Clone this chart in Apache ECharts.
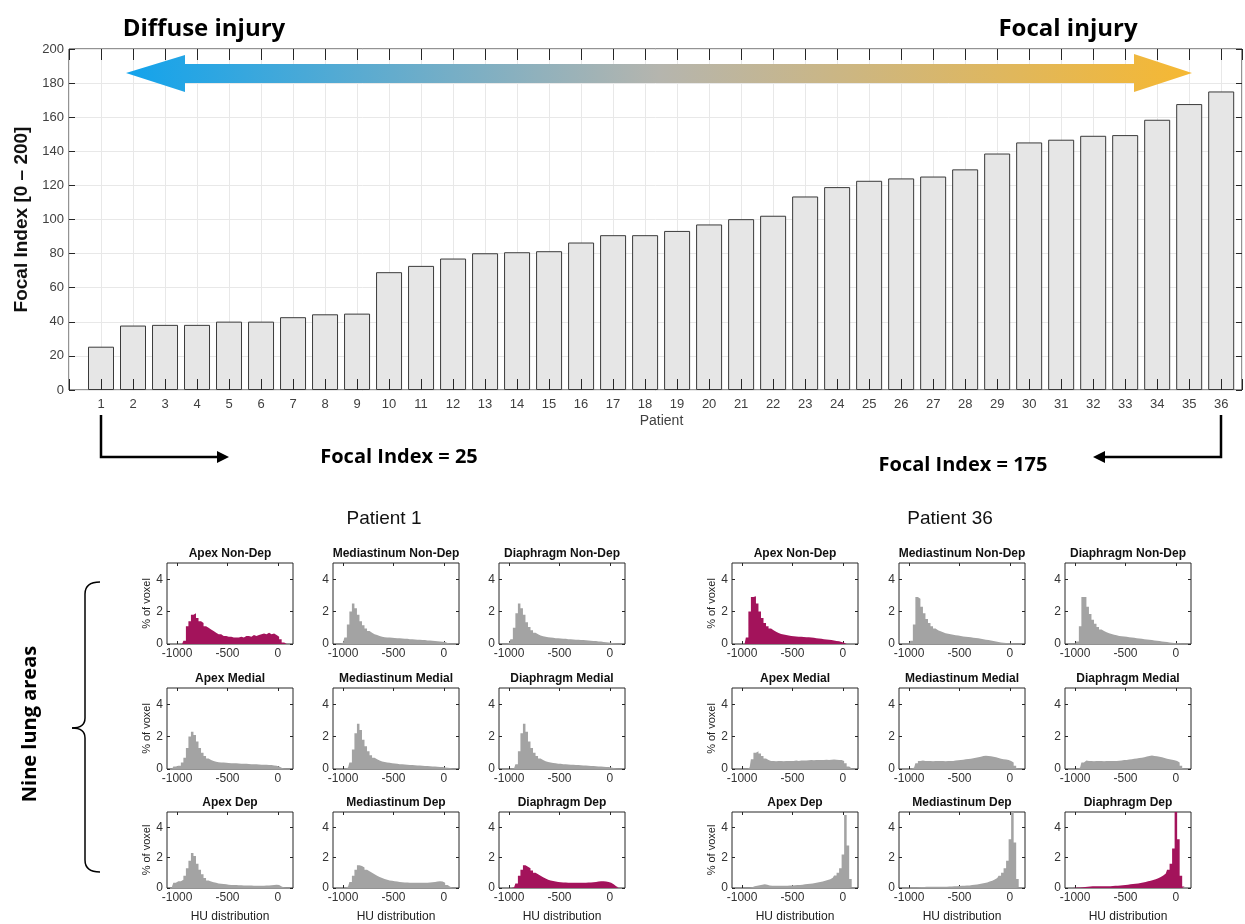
<!DOCTYPE html>
<html>
<head>
<meta charset="utf-8">
<script src="https://cdn.jsdelivr.net/npm/echarts@6.0.0/dist/echarts.min.js"></script>
<style>
html, body { margin: 0; padding: 0; background: #fff; }
#chart { width: 1245px; height: 924px; }
</style>
</head>
<body>
<div id="chart"></div>
<script>
// ---- data ----
var patients = [1, 2, 3, 4, 5, 6, 7, 8, 9, 10, 11, 12, 13, 14, 15, 16, 17, 18,
    19, 20, 21, 22, 23, 24, 25, 26, 27, 28, 29, 30, 31, 32, 33, 34, 35, 36];
var focalIndex = [25.4, 37.8, 38.2, 38.2, 40.1, 40.1, 42.7, 44.4, 44.8, 69.1, 72.8, 77.1,
    80.2, 80.8, 81.4, 86.5, 90.8, 90.8, 93.3, 97.1, 100.2, 102.2, 113.5, 119.0,
    122.7, 124.1, 125.2, 129.4, 138.7, 145.2, 146.8, 149.1, 149.5, 158.5, 167.7, 175.1];

// histogram bin centres (HU)
var huBins = [-1050, -1025, -1000, -975, -950, -925, -900, -875, -850, -825, -800, -775,
    -750, -725, -700, -675, -650, -625, -600, -575, -550, -525, -500, -475, -450, -425,
    -400, -375, -350, -325, -300, -275, -250, -225, -200, -175, -150, -125, -100, -75,
    -50, -25, 0, 25, 50, 75, 100];
var huTicks = [-1000, -500, 0];
var voxelTicks = [0, 2, 4];

var regionNames = ['Apex Non-Dep', 'Mediastinum Non-Dep', 'Diaphragm Non-Dep',
    'Apex Medial', 'Mediastinum Medial', 'Diaphragm Medial',
    'Apex Dep', 'Mediastinum Dep', 'Diaphragm Dep'];

// patient 1, % of voxel per bin
var p1ApexNonDep = [0,0,0,0,0,0.2,1.1,1.4,1.8,1.9, 1.6,1.4,1.3,1.1,1.0,0.9,0.8,0.7,0.6,0.6,
    0.5,0.5,0.45,0.45,0.4,0.4,0.4,0.45,0.4,0.5, 0.5,0.45,0.55,0.5,0.55,0.6,0.65,0.6,0.7,0.6,
    0.65,0.55,0.45,0.3,0.1,0,0];
var p1MediastNonDep = [0,0,0.1,0.4,1.2,2.0,2.5,2.2,1.8,1.4, 1.15,0.95,0.8,0.7,0.6,0.55,0.5,0.45,0.42,0.4,
    0.4,0.38,0.37,0.36,0.35,0.34,0.33,0.32,0.3,0.3, 0.28,0.27,0.26,0.25,0.24,0.22,0.21,0.2,0.19,0.17,
    0.16,0.14,0.12,0.06,0,0,0];
var p1DiaphNonDep = [0,0,0.05,0.3,1.0,1.9,2.5,2.2,1.8,1.35, 1.05,0.85,0.7,0.6,0.52,0.48,0.45,0.42,0.4,0.38,
    0.36,0.35,0.34,0.33,0.32,0.3,0.3,0.28,0.27,0.26, 0.25,0.24,0.23,0.22,0.2,0.19,0.18,0.16,0.15,0.13,
    0.11,0.09,0.08,0.05,0.02,0,0];
var p1ApexMedial = [0,0.15,0.2,0.2,0.4,0.7,1.3,2.0,2.3,2.1, 1.7,1.3,1.0,0.8,0.65,0.55,0.5,0.45,0.42,0.4,
    0.4,0.38,0.37,0.36,0.35,0.35,0.34,0.33,0.33,0.32, 0.31,0.3,0.3,0.29,0.28,0.27,0.26,0.26,0.25,0.24,
    0.22,0.2,0.15,0.08,0.02,0,0];
var p1MediastMedial = [0,0,0,0,0.1,0.4,1.2,2.2,2.8,2.4, 1.8,1.4,1.1,0.85,0.7,0.6,0.52,0.47,0.43,0.4,
    0.38,0.36,0.34,0.32,0.3,0.29,0.28,0.26,0.25,0.24, 0.23,0.22,0.21,0.2,0.19,0.18,0.17,0.16,0.15,0.14,
    0.13,0.12,0.1,0.08,0.06,0.02,0];
var p1DiaphMedial = [0,0,0,0,0.05,0.3,1.1,2.2,2.8,2.3, 1.7,1.3,1.0,0.8,0.65,0.55,0.48,0.43,0.4,0.37,
    0.35,0.33,0.32,0.3,0.29,0.28,0.27,0.26,0.25,0.24, 0.23,0.22,0.21,0.2,0.19,0.18,0.17,0.16,0.15,0.14,
    0.13,0.12,0.1,0.06,0.02,0,0];
var p1ApexDep = [0.1,0.35,0.45,0.45,0.55,0.8,1.3,1.8,2.3,2.1, 1.6,1.2,0.9,0.65,0.5,0.42,0.38,0.34,0.3,0.28,
    0.26,0.24,0.22,0.2,0.2,0.19,0.18,0.18,0.17,0.17, 0.16,0.16,0.15,0.15,0.15,0.15,0.15,0.16,0.17,0.18,
    0.2,0.22,0.2,0.1,0.03,0,0];
var p1MediastDep = [0,0,0,0,0.1,0.4,0.8,1.2,1.5,1.45, 1.35,1.2,1.1,1.0,0.9,0.8,0.72,0.65,0.6,0.55,
    0.5,0.47,0.45,0.42,0.4,0.38,0.37,0.36,0.35,0.35, 0.35,0.34,0.34,0.34,0.35,0.35,0.36,0.38,0.4,0.42,
    0.45,0.42,0.35,0.2,0.08,0.02,0];
var p1DiaphDep = [0,0,0,0,0.05,0.3,0.8,1.2,1.5,1.4, 1.3,1.15,1.0,0.9,0.8,0.7,0.62,0.55,0.5,0.46,
    0.43,0.4,0.38,0.37,0.36,0.35,0.35,0.34,0.34,0.34, 0.34,0.35,0.35,0.36,0.37,0.38,0.4,0.42,0.44,0.45,
    0.43,0.4,0.35,0.25,0.12,0.04,0];

// patient 36, % of voxel per bin
var p36ApexNonDep = [0,0,0,0,0.4,2.0,2.9,2.95,2.5,2.0, 1.6,1.3,1.1,0.95,0.85,0.75,0.68,0.62,0.58,0.55,
    0.52,0.5,0.48,0.46,0.45,0.44,0.43,0.42,0.41,0.4, 0.38,0.36,0.34,0.32,0.3,0.28,0.26,0.24,0.22,0.19,
    0.17,0.13,0.08,0,0,0,0];
var p36MediastNonDep = [0,0,0,0.2,1.2,2.9,2.8,2.3,1.9,1.55, 1.3,1.1,0.95,0.85,0.78,0.72,0.67,0.63,0.6,0.57,
    0.54,0.52,0.5,0.47,0.45,0.43,0.41,0.39,0.37,0.35, 0.33,0.3,0.27,0.24,0.21,0.18,0.15,0.12,0.1,0.08,
    0.06,0.04,0.03,0.01,0,0,0];
var p36DiaphNonDep = [0,0,0,0.15,1.1,2.9,2.9,2.3,1.85,1.5, 1.25,1.05,0.9,0.8,0.72,0.66,0.61,0.57,0.54,0.5,
    0.48,0.46,0.44,0.42,0.4,0.38,0.36,0.34,0.32,0.3, 0.28,0.26,0.24,0.22,0.2,0.18,0.16,0.14,0.12,0.1,
    0.08,0.06,0.04,0.02,0,0,0];
var p36ApexMedial = [0,0,0,0,0,0.1,0.6,1.0,1.1,0.95, 0.8,0.65,0.55,0.5,0.5,0.48,0.5,0.5,0.48,0.5,
    0.5,0.49,0.5,0.52,0.5,0.52,0.53,0.52,0.54,0.55, 0.54,0.55,0.56,0.55,0.56,0.57,0.56,0.57,0.58,0.57,
    0.56,0.55,0.5,0.35,0.15,0.03,0];
var p36MediastMedial = [0,0,0,0,0.1,0.35,0.5,0.52,0.5,0.5, 0.5,0.48,0.5,0.49,0.5,0.5,0.48,0.5,0.5,0.5,
    0.52,0.54,0.55,0.57,0.6,0.62,0.64,0.67,0.7,0.72, 0.76,0.8,0.82,0.8,0.78,0.75,0.72,0.68,0.64,0.6,
    0.58,0.55,0.5,0.4,0.2,0.05,0];
var p36DiaphMedial = [0,0,0,0,0.1,0.4,0.52,0.5,0.5,0.48, 0.5,0.5,0.49,0.48,0.5,0.5,0.5,0.49,0.5,0.51,
    0.53,0.55,0.56,0.58,0.6,0.63,0.65,0.68,0.7,0.73, 0.77,0.8,0.83,0.81,0.78,0.75,0.72,0.68,0.64,0.6,
    0.57,0.54,0.5,0.4,0.2,0.05,0];
var p36ApexDep = [0,0,0,0,0,0,0.05,0.12,0.15,0.18, 0.22,0.25,0.22,0.17,0.15,0.14,0.14,0.14,0.14,0.15,
    0.15,0.16,0.17,0.18,0.19,0.2,0.22,0.24,0.26,0.28, 0.3,0.33,0.36,0.4,0.43,0.47,0.52,0.58,0.68,0.82,
    1.0,1.3,2.2,4.8,2.8,0.6,0.05];
var p36MediastDep = [0,0,0.02,0.03,0.03,0.04,0.05,0.06,0.07,0.08, 0.08,0.08,0.08,0.08,0.08,0.08,0.09,0.09,0.1,0.1,
    0.11,0.12,0.13,0.14,0.15,0.16,0.17,0.19,0.21,0.23, 0.26,0.29,0.33,0.37,0.42,0.48,0.56,0.66,0.8,1.0,
    1.3,1.8,3.2,6.0,3.0,0.6,0.05];
var p36DiaphDep = [0,0,0.02,0.03,0.04,0.05,0.07,0.09,0.1,0.12, 0.12,0.12,0.12,0.11,0.11,0.11,0.12,0.13,0.14,0.15,
    0.16,0.18,0.2,0.22,0.24,0.26,0.28,0.3,0.33,0.36, 0.4,0.44,0.48,0.53,0.58,0.64,0.72,0.82,0.95,1.2,
    1.6,2.6,6.0,3.2,0.8,0.1,0];

var GRAY = '#a3a3a3';
var MAGENTA = '#a3135b';
var panels = [
    { values: p1ApexNonDep, color: MAGENTA }, { values: p1MediastNonDep, color: GRAY }, { values: p1DiaphNonDep, color: GRAY },
    { values: p1ApexMedial, color: GRAY }, { values: p1MediastMedial, color: GRAY }, { values: p1DiaphMedial, color: GRAY },
    { values: p1ApexDep, color: GRAY }, { values: p1MediastDep, color: GRAY }, { values: p1DiaphDep, color: MAGENTA },
    { values: p36ApexNonDep, color: MAGENTA }, { values: p36MediastNonDep, color: GRAY }, { values: p36DiaphNonDep, color: GRAY },
    { values: p36ApexMedial, color: GRAY }, { values: p36MediastMedial, color: GRAY }, { values: p36DiaphMedial, color: GRAY },
    { values: p36ApexDep, color: GRAY }, { values: p36MediastDep, color: GRAY }, { values: p36DiaphDep, color: MAGENTA }
];

// ---- layout ----
var FONT = '"Liberation Sans", Arial, sans-serif';
var HEAD = '"Open Sans", sans-serif';
var panelLefts = [[167, 333, 499], [732, 899, 1065]];
var panelTops = [563, 688, 812];
var panelW = 126, panelH = 81;
var noLine = { show: false, onZero: false };
var plain = function (v) { return String(v); };

var grids = [], xAxes = [], yAxes = [], series = [], graphics = [];

// top bar chart
grids.push({ left: 69, right: 2, top: 49, bottom: 534, show: true,
    borderColor: '#262626', borderWidth: 1, backgroundColor: 'transparent' });
xAxes.push({
    gridIndex: 0, type: 'value', position: 'bottom', min: 0, max: 36.65, interval: 1, z: 5,
    axisLine: noLine,
    axisTick: { inside: true, length: 11, lineStyle: { color: '#262626' } },
    axisLabel: {
        fontSize: 13, color: '#404040', margin: 8, fontFamily: FONT,
        formatter: function (v) { return (v >= 1 && v <= 36 && v % 1 === 0) ? String(v) : ''; }
    },
    splitLine: { show: false },
    name: 'Patient', nameLocation: 'middle', nameGap: 24,
    nameTextStyle: { fontSize: 14, color: '#404040', fontFamily: FONT, padding: [0, 0, 0, 12] }
});
xAxes.push({
    gridIndex: 0, type: 'value', position: 'top', min: 0, max: 36.65, interval: 1,
    axisLine: noLine,
    axisTick: { inside: true, length: 11, lineStyle: { color: '#262626' } },
    axisLabel: { show: false },
    splitLine: { show: true, lineStyle: { color: '#e8e8e8' } }
});
yAxes.push({
    gridIndex: 0, type: 'value', min: 0, max: 200, interval: 20,
    axisLine: noLine,
    axisTick: { inside: true, length: 6, lineStyle: { color: '#262626' } },
    axisLabel: { fontSize: 13, color: '#404040', margin: 5, fontFamily: FONT },
    splitLine: { show: true, lineStyle: { color: '#e8e8e8' } },
    name: 'Focal Index [0 \u2013 200]', nameLocation: 'middle', nameGap: 38,
    nameTextStyle: { fontSize: 19, fontWeight: 'bold', color: '#111', fontFamily: FONT }
});
yAxes.push({
    gridIndex: 0, type: 'value', position: 'right', min: 0, max: 200, interval: 20,
    axisLine: noLine,
    axisTick: { inside: true, length: 6, lineStyle: { color: '#262626' } },
    axisLabel: { show: false }, splitLine: { show: false }
});
series.push({
    type: 'bar', xAxisIndex: 0, yAxisIndex: 0, barWidth: 26,
    data: patients.map(function (p, i) { return [p, focalIndex[i]]; }),
    itemStyle: { color: '#e6e6e6', borderColor: '#3a3a3a', borderWidth: 1 }
});

// histogram panels
panels.forEach(function (p, k) {
    var g = Math.floor(k / 9), idx = k % 9, row = Math.floor(idx / 3), col = idx % 3;
    var left = panelLefts[g][col], top = panelTops[row];
    var gi = grids.length, xi = xAxes.length, yi = yAxes.length;
    grids.push({ left: left, top: top, width: panelW, height: panelH, show: true,
        borderColor: '#262626', borderWidth: 1, backgroundColor: 'transparent' });
    xAxes.push({
        gridIndex: gi, type: 'value', position: 'bottom', min: -1100, max: 150,
        axisLine: noLine,
        axisTick: { inside: true, length: 3, customValues: huTicks, lineStyle: { color: '#262626' } },
        axisLabel: { customValues: huTicks, formatter: plain, fontSize: 12, color: '#333', margin: 4, fontFamily: FONT },
        splitLine: { show: false },
        name: row === 2 ? 'HU distribution' : '', nameLocation: 'middle', nameGap: 23,
        nameTextStyle: { fontSize: 12, color: '#222', fontFamily: FONT }
    });
    xAxes.push({
        gridIndex: gi, type: 'value', position: 'top', min: -1100, max: 150,
        axisLine: noLine,
        axisTick: { inside: true, length: 3, customValues: huTicks, lineStyle: { color: '#262626' } },
        axisLabel: { show: false }, splitLine: { show: false }
    });
    yAxes.push({
        gridIndex: gi, type: 'value', min: 0, max: 5,
        axisLine: noLine,
        axisTick: { inside: true, length: 3, customValues: voxelTicks, lineStyle: { color: '#262626' } },
        axisLabel: { customValues: voxelTicks, formatter: plain, fontSize: 12, color: '#333', margin: 4, fontFamily: FONT },
        splitLine: { show: false },
        name: col === 0 ? '% of voxel' : '', nameLocation: 'middle', nameGap: 15,
        nameTextStyle: { fontSize: 11, color: '#222', fontFamily: FONT }
    });
    yAxes.push({
        gridIndex: gi, type: 'value', position: 'right', min: 0, max: 5,
        axisLine: noLine,
        axisTick: { inside: true, length: 3, customValues: voxelTicks, lineStyle: { color: '#262626' } },
        axisLabel: { show: false }, splitLine: { show: false }
    });
    series.push({
        type: 'line', xAxisIndex: xi, yAxisIndex: yi, step: 'middle', symbol: 'none', silent: true,
        data: huBins.map(function (h, i) { return [h, p.values[i]]; }),
        lineStyle: { width: 0, color: p.color },
        itemStyle: { color: p.color },
        areaStyle: { color: p.color, opacity: 1 }
    });
    graphics.push({
        type: 'text', x: left + panelW / 2, y: top - 9,
        style: { text: regionNames[idx], font: 'bold 12px ' + FONT, fill: '#111', align: 'center', verticalAlign: 'middle' }
    });
});

// annotations
graphics.push({
    type: 'polygon', z: 10,
    shape: { points: [[126, 73], [185, 55], [185, 64], [1134, 64], [1134, 54], [1192, 73],
        [1134, 92], [1134, 83], [185, 83], [185, 92]] },
    style: { fill: new echarts.graphic.LinearGradient(0, 1, 1, 0, [
        { offset: 0, color: '#12a3ec' }, { offset: 0.5, color: '#b5b5ae' }, { offset: 1, color: '#f6b832' }]) }
});
graphics.push({ type: 'text', x: 204, y: 29,
    style: { text: 'Diffuse injury', font: 'bold 24px ' + HEAD, fill: '#000', align: 'center', verticalAlign: 'middle' } });
graphics.push({ type: 'text', x: 1068, y: 29,
    style: { text: 'Focal injury', font: 'bold 24px ' + HEAD, fill: '#000', align: 'center', verticalAlign: 'middle' } });
graphics.push({ type: 'polyline', shape: { points: [[101, 415], [101, 457], [220, 457]] },
    style: { stroke: '#000', lineWidth: 2.5, fill: null } });
graphics.push({ type: 'polygon', shape: { points: [[217, 451], [229, 457], [217, 463]] }, style: { fill: '#000' } });
graphics.push({ type: 'polyline', shape: { points: [[1221, 415], [1221, 457], [1102, 457]] },
    style: { stroke: '#000', lineWidth: 2.5, fill: null } });
graphics.push({ type: 'polygon', shape: { points: [[1105, 451], [1093, 457], [1105, 463]] }, style: { fill: '#000' } });
graphics.push({ type: 'text', x: 399, y: 457,
    style: { text: 'Focal Index = 25', font: 'bold 20px ' + HEAD, fill: '#000', align: 'center', verticalAlign: 'middle' } });
graphics.push({ type: 'text', x: 963, y: 465,
    style: { text: 'Focal Index = 175', font: 'bold 20px ' + HEAD, fill: '#000', align: 'center', verticalAlign: 'middle' } });
graphics.push({ type: 'text', x: 384, y: 519,
    style: { text: 'Patient 1', font: '19px ' + FONT, fill: '#111', align: 'center', verticalAlign: 'middle' } });
graphics.push({ type: 'text', x: 950, y: 519,
    style: { text: 'Patient 36', font: '19px ' + FONT, fill: '#111', align: 'center', verticalAlign: 'middle' } });
graphics.push({ type: 'text', x: 30, y: 724, rotation: Math.PI / 2,
    style: { text: 'Nine lung areas', font: 'bold 20px ' + HEAD, fill: '#000', align: 'center', verticalAlign: 'middle' } });
// curly brace
var braceStyle = { stroke: '#000', lineWidth: 1.5, fill: null };
graphics.push({ type: 'bezierCurve', shape: { x1: 100, y1: 582, x2: 85, y2: 594, cpx1: 85, cpy1: 582 }, style: braceStyle });
graphics.push({ type: 'line', shape: { x1: 85, y1: 594, x2: 85, y2: 718 }, style: braceStyle });
graphics.push({ type: 'bezierCurve', shape: { x1: 85, y1: 718, x2: 72, y2: 728, cpx1: 85, cpy1: 728 }, style: braceStyle });
graphics.push({ type: 'bezierCurve', shape: { x1: 72, y1: 728, x2: 85, y2: 738, cpx1: 85, cpy1: 728 }, style: braceStyle });
graphics.push({ type: 'line', shape: { x1: 85, y1: 738, x2: 85, y2: 860 }, style: braceStyle });
graphics.push({ type: 'bezierCurve', shape: { x1: 85, y1: 860, x2: 100, y2: 872, cpx1: 85, cpy1: 872 }, style: braceStyle });

var chart = echarts.init(document.getElementById('chart'));
chart.setOption({
    animation: false,
    backgroundColor: '#fff',
    grid: grids,
    xAxis: xAxes,
    yAxis: yAxes,
    series: series,
    graphic: graphics
});
</script>
</body>
</html>
